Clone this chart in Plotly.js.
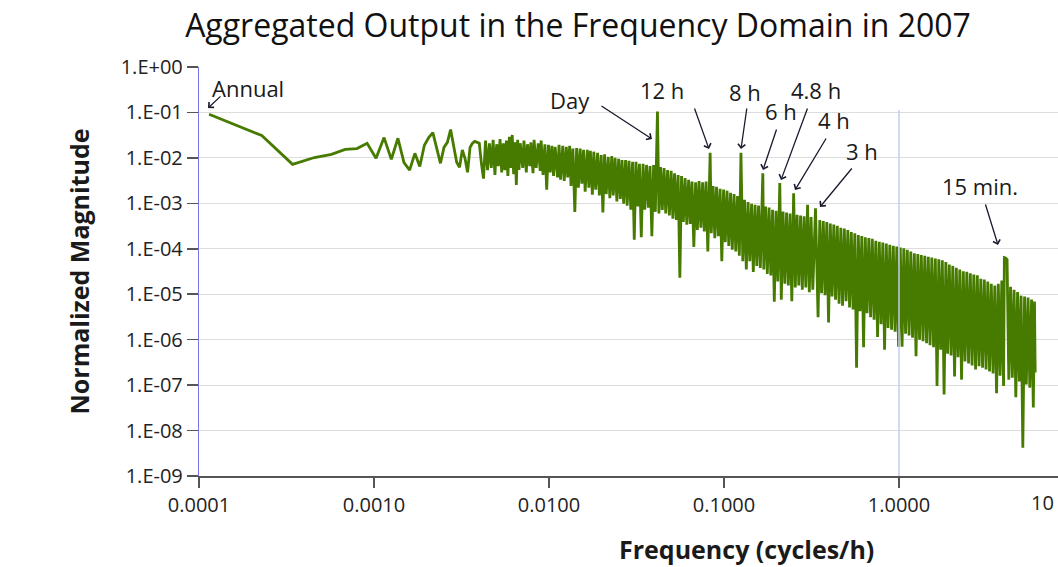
<!DOCTYPE html>
<html>
<head>
<meta charset="utf-8">
<script src="https://cdn.plot.ly/plotly-3.0.1.min.js"></script>
<style>
  html, body { margin: 0; padding: 0; background: #ffffff; }
  #chart { width: 1058px; height: 567px; }
</style>
</head>
<body>
<div id="chart"></div>
<script>
// ---------------- data ----------------
const HOURS_PER_YEAR = 8760;

// frequency as cycles per year (harmonic number of a one-year record)
const cyclesPerYear = [
  1, 2, 3, 4, 5, 6, 7, 8, 9, 10, 11, 12, 13, 14, 15, 16, 17, 18, 19, 20,
  21, 22, 23, 24, 25, 26, 27, 28, 29, 30, 31, 32, 33, 34, 35, 36, 37,
  38, 39, 40, 41, 42, 43, 44, 45, 46, 47,
  48, 49, 50, 51, 52, 53, 54, 55, 56, 57,
  58, 59, 60, 62, 63, 65, 66, 68, 69, 71,
  72, 74, 76, 78, 79, 81, 83, 85, 87, 89,
  91, 93, 95, 98,
  100, 102, 105, 107, 110, 112, 115, 117, 120, 123,
  126, 129, 132, 135, 138, 141, 145, 148, 151, 155,
  158, 162, 166, 170, 174, 178, 182, 186, 191, 195,
  200, 204, 209, 214, 219, 224, 229, 234, 240, 245,
  251, 257, 263, 269, 275, 282, 288, 295, 302, 309,
  316, 324, 331, 339, 347, 355, 365, 372, 380, 389,
  398, 407, 417, 427, 437, 447, 457, 468, 479, 490,
  501, 513, 525, 537, 550, 562, 575, 589, 603, 617,
  631, 646, 661, 676, 692, 708, 730, 741, 759, 776,
  794, 813, 832, 851, 871, 891, 912, 933, 955, 977,
  1000, 1023, 1047, 1072, 1095, 1122, 1148, 1175, 1202, 1230,
  1259, 1288, 1318, 1349, 1380, 1413, 1460, 1479, 1514, 1549,
  1585, 1622, 1660, 1698, 1738, 1778, 1825, 1862, 1905, 1950,
  1995, 2042, 2089, 2138, 2190, 2239, 2291, 2344, 2399, 2455,
  2512, 2570, 2630, 2692, 2754, 2818, 2920, 3020, 3090, 3162,
  3236, 3311, 3388, 3467, 3548, 3631, 3715, 3802, 3890, 3981,
  4074, 4169, 4266, 4365, 4467, 4571, 4677, 4786, 4898, 5012,
  5129, 5248, 5370, 5495, 5623, 5754, 5888, 6026, 6166, 6310,
  6457, 6607, 6761, 6918, 7079, 7244, 7413, 7586, 7762, 7943,
  8128, 8318, 8511, 8710, 8913, 9120, 9333, 9550, 9772,
  10000, 10230, 10470, 10720, 10960, 11220, 11480, 11750, 12020, 12300,
  12590, 12880, 13180, 13490, 13800, 14130, 14450, 14790, 15140, 15490,
  15850, 16220, 16600, 16980, 17380, 17780, 18200, 18620, 19050, 19500,
  19950, 20420, 20890, 21380, 21880, 22390, 22910, 23440, 23990, 24550,
  25120, 25700, 26300, 26920, 27540, 28180, 28840, 29510, 30200, 30900,
  31620, 32360, 33110, 33880, 34670, 35040, 35600, 36310, 37150, 38020,
  38900, 39810, 40740, 41690, 42660, 43650, 44670, 45710, 46770, 47860,
  48980, 50120, 51290, 52080, 52560
];

// normalized magnitude at each frequency
const normalizedMagnitude = [
  9.1e-2, 3.1e-2, 7.2e-3, 1.02e-2, 1.2e-2, 1.54e-2, 1.6e-2, 2.1e-2, 9.8e-3, 2.8e-2,
  9.3e-3, 2.7e-2, 7.9e-3, 5.4e-3, 1.26e-2, 6.5e-3, 1.9e-2, 2.8e-2, 3.6e-2, 1.5e-2,
  7.6e-3, 1.7e-2, 2.2e-2, 4.2e-2, 1.7e-2, 8.0e-3, 6.2e-3, 1.5e-2, 9.8e-3, 4.8e-3,
  1.7e-2, 2.1e-2, 2.3e-2, 2.2e-2, 2.1e-2, 7.6e-3, 3.5e-3,
  2.4e-2, 5.4e-3, 2.1e-2, 6.0e-3, 2.5e-2, 4.2e-3, 2.0e-2, 6.6e-3, 2.6e-2, 4.8e-3,
  2.1e-2, 5.4e-3, 2.4e-2, 4.0e-3, 2.9e-2, 6.0e-3, 3.2e-2, 4.4e-3, 2.2e-2, 2.55e-3,
  2.5e-2, 5.4e-3, 2.1e-2, 6.0e-3, 2.4e-2, 4.8e-3, 2.0e-2, 6.6e-3, 2.2e-2, 4.6e-3,
  2.5e-2, 6.0e-3, 2.1e-2, 5.2e-3, 2.4e-2, 4.2e-3, 2.0e-2, 2.0e-3, 1.93e-2, 4.8e-3,
  1.85e-2, 4.0e-3, 1.75e-2, 3.7e-3,
  1.93e-2, 3.3e-3, 1.85e-2, 3.1e-3, 1.75e-2, 3.7e-3, 1.85e-2, 2.4e-3, 1.6e-2, 6.5e-4,
  1.65e-2, 2.2e-3, 1.6e-2, 2.7e-3, 1.5e-2, 1.8e-3, 1.5e-2, 2.2e-3, 1.43e-2, 1.54e-3,
  1.37e-2, 2.0e-3, 1.3e-2, 1.5e-3, 1.16e-2, 6.3e-4, 1.2e-2, 1.6e-3, 1.05e-2, 1.3e-3,
  1.1e-2, 1.5e-3, 1.0e-2, 1.1e-3, 9.5e-3, 1.25e-3, 9.0e-3, 9.8e-4, 9.0e-3, 8.9e-4,
  8.6e-3, 7.2e-4, 8.2e-3, 1.58e-4, 8.2e-3, 8.5e-4, 7.4e-3, 1.8e-4, 7.4e-3, 7.2e-4,
  7.0e-3, 8.0e-4, 6.6e-3, 1.9e-4, 7.0e-3, 6.5e-4, 1.05e-1, 6.0e-4, 6.3e-3, 7.2e-4,
  6.0e-3, 6.0e-4, 5.4e-3, 5.4e-4, 5.2e-3, 4.6e-4, 4.6e-3, 4.3e-4, 4.2e-3, 2.3e-5,
  4.0e-3, 3.9e-4, 3.6e-3, 3.4e-4, 3.3e-3, 3.5e-4, 3.0e-3, 1.1e-4, 2.9e-3, 2.6e-4,
  3.1e-3, 2.9e-4, 2.9e-3, 2.4e-4, 3.0e-3, 8.7e-5, 1.3e-2, 2.2e-4, 2.4e-3, 1.7e-4,
  2.3e-3, 1.9e-4, 2.1e-3, 5.3e-5, 2.0e-3, 1.4e-4, 1.9e-3, 1.15e-4, 1.7e-3, 9.5e-5,
  1.6e-3, 8.7e-5, 1.45e-3, 7.0e-5, 1.3e-2, 5.3e-5, 1.19e-3, 3.5e-5, 1.07e-3, 5.3e-5,
  9.8e-4, 3.1e-5, 9.3e-4, 4.2e-5, 8.9e-4, 3.8e-5, 4.6e-3, 3.5e-5, 8.5e-4, 2.8e-5,
  8.1e-4, 2.6e-5, 7.2e-4, 6.8e-6, 6.9e-4, 1.9e-5, 2.8e-3, 7.6e-6, 6.6e-4, 1.7e-5,
  6.3e-4, 1.55e-5, 6.0e-4, 7.0e-6, 1.66e-3, 1.4e-5, 5.6e-4, 1.55e-5, 5.4e-4, 1.26e-5,
  5.2e-4, 1.4e-5, 9.3e-4, 1.1e-5, 5.0e-4, 1.26e-5, 7.8e-4, 3.1e-6, 4.3e-4, 1.05e-5,
  4.1e-4, 9.5e-6, 3.9e-4, 2.4e-6, 3.6e-4, 8.9e-6, 3.4e-4, 7.6e-6, 3.2e-4, 6.2e-6,
  2.9e-4, 5.6e-6, 2.8e-4, 7.0e-6, 2.6e-4, 5.1e-6, 2.35e-4, 4.6e-6, 2.2e-4, 2.4e-7,
  2.0e-4, 4.2e-6, 1.9e-4, 6.8e-7, 1.8e-4, 3.8e-6, 1.72e-4, 3.1e-6, 1.65e-4, 2.75e-6,
  1.5e-4, 1.15e-6, 1.43e-4, 2.2e-6, 1.37e-4, 6.0e-7, 1.3e-4, 1.8e-6, 1.22e-4, 1.66e-6,
  1.17e-4, 1.5e-6, 1.12e-4, 7.0e-7, 1.07e-4, 7.0e-7, 1.02e-4, 1.35e-6, 9.5e-5,
  1.23e-6, 8.7e-5, 1.1e-6, 8.0e-5, 4.3e-7, 7.7e-5, 1.0e-6, 7.3e-5, 9.2e-7, 7.0e-5,
  8.3e-7, 6.7e-5, 7.5e-7, 6.4e-5, 6.8e-7, 6.1e-5, 9.6e-8, 5.9e-5, 6.0e-7, 5.6e-5,
  6.2e-8, 5.1e-5, 4.9e-7, 4.5e-5, 4.5e-7, 4.2e-5, 1.55e-7, 3.8e-5, 4.1e-7, 3.5e-5,
  1.32e-7, 3.2e-5, 3.3e-7, 3.1e-5, 3.0e-7, 2.9e-5, 2.7e-7, 2.7e-5, 2.2e-7, 2.6e-5,
  2.6e-7, 2.2e-5, 2.4e-7, 2.1e-5, 2.2e-7, 1.9e-5, 2.0e-7, 1.7e-5, 1.8e-7, 1.55e-5,
  6.6e-8, 1.7e-5, 1.6e-7, 2.0e-5, 9.6e-8, 6.4e-5, 6.3e-5, 5.8e-5, 1.32e-7, 1.45e-5,
  1.45e-7, 1.26e-5, 5.4e-8, 1.12e-5, 1.2e-7, 9.3e-6, 4.2e-9, 8.9e-6, 1.03e-7, 8.5e-6,
  8.8e-8, 7.6e-6, 3.2e-8, 6.9e-6, 1.9e-7
];

// axis ticks
const xTickValues = [0.0001, 0.001, 0.01, 0.1, 1];
const xTickLabels = ["0.0001", "0.0010", "0.0100", "0.1000", "1.0000"];
const xLastTickLabel = "10";
const yTickValues = [1, 1e-1, 1e-2, 1e-3, 1e-4, 1e-5, 1e-6, 1e-7, 1e-8, 1e-9];
const yTickLabels = ["1.E+00", "1.E-01", "1.E-02", "1.E-03", "1.E-04", "1.E-05", "1.E-06", "1.E-07", "1.E-08", "1.E-09"];

// peak labels
const peakLabels = ["Annual", "Day", "12 h", "8 h", "6 h", "4.8 h", "4 h", "3 h", "15 min."];

const chartTitle = "Aggregated Output in the Frequency Domain in 2007";
const xTitle = "Frequency (cycles/h)";
const yTitle = "Normalized Magnitude";

// ---------------- layout / styling ----------------
const W = 1058, H = 567;
const M = { l: 199, r: 0, t: 67, b: 91 };
const PW = W - M.l - M.r, PH = H - M.t - M.b;
const px2x = (px) => (px - M.l) / PW;
const py2y = (py) => (H - M.b - py) / PH;

const FONT = "Open Sans, Noto Sans, DejaVu Sans, sans-serif";

// label placement in figure pixels: text centre, arrow head, arrow tail
const labelPlacement = [
  { tx: 248, ty: 88,  hx: 208, hy: 108, ax: 222, ay: 95 },
  { tx: 570, ty: 100, hx: 652, hy: 139, ax: 600, ay: 105 },
  { tx: 662, ty: 90,  hx: 709, hy: 149, ax: 694, ay: 107 },
  { tx: 745, ty: 92,  hx: 741, hy: 149, ax: 747, ay: 107 },
  { tx: 781, ty: 111, hx: 763, hy: 170, ax: 777, ay: 128 },
  { tx: 816, ty: 90,  hx: 781, hy: 180, ax: 808, ay: 107 },
  { tx: 834, ty: 120, hx: 795, hy: 190, ax: 827, ay: 137 },
  { tx: 862, ty: 151, hx: 820, hy: 207, ax: 853, ay: 167 },
  { tx: 980, ty: 186, hx: 998, hy: 245, ax: 985, ay: 203 }
];

const annotations = [];
peakLabels.forEach((label, i) => {
  const p = labelPlacement[i];
  annotations.push({
    xref: "paper", yref: "paper", x: px2x(p.tx), y: py2y(p.ty),
    text: label, showarrow: false, xanchor: "center", yanchor: "middle",
    font: { family: FONT, size: 22, color: "#1a1a1a" }
  });
  annotations.push({
    xref: "paper", yref: "paper", x: px2x(p.hx), y: py2y(p.hy),
    text: "", showarrow: true, axref: "pixel", ayref: "pixel",
    ax: p.ax - p.hx, ay: p.ay - p.hy,
    arrowhead: 4, arrowsize: 1.1, arrowwidth: 1.3, arrowcolor: "#1a1a2e", standoff: 0
  });
});
annotations.push({
  xref: "paper", yref: "paper", x: px2x(1042), y: py2y(502),
  text: xLastTickLabel, showarrow: false, xanchor: "center", yanchor: "middle",
  font: { family: FONT, size: 20, color: "#222222" }
});
annotations.push({
  xref: "paper", yref: "paper", x: px2x(746), y: py2y(549),
  text: "<b>" + xTitle + "</b>", showarrow: false, xanchor: "center", yanchor: "middle",
  font: { family: FONT, size: 25, color: "#1a1a1a" }
});

const trace = {
  type: "scatter",
  mode: "lines",
  x: cyclesPerYear.map(k => k / HOURS_PER_YEAR),
  y: normalizedMagnitude,
  line: { color: "#467b00", width: 2.8 },
  hoverinfo: "skip",
  showlegend: false
};

const layout = {
  width: W, height: H,
  margin: M,
  paper_bgcolor: "#ffffff",
  plot_bgcolor: "#ffffff",
  font: { family: FONT, color: "#222222" },
  showlegend: false,
  title: {
    text: chartTitle,
    xref: "container", yref: "container",
    x: 578 / W, y: 1 - 26 / H, xanchor: "center", yanchor: "middle",
    font: { family: FONT, size: 32, color: "#111111" }
  },
  xaxis: {
    type: "log",
    range: [-4, -4 + PW / 175],
    tickvals: xTickValues,
    ticktext: xTickLabels,
    showgrid: false,
    zeroline: false,
    showline: true, linecolor: "#555555", linewidth: 1.5,
    ticks: "outside", ticklen: 10, tickwidth: 1.5, tickcolor: "#555555",
    tickfont: { family: FONT, size: 20, color: "#222222" }
  },
  yaxis: {
    type: "log",
    range: [-9, 0],
    tickvals: yTickValues,
    ticktext: yTickLabels,
    showgrid: true, gridcolor: "#dddddd", gridwidth: 1,
    zeroline: false,
    showline: true, linecolor: "#7373e6", linewidth: 1.2,
    ticks: "outside", ticklen: 11, tickwidth: 1.5, tickcolor: "#555555",
    tickfont: { family: FONT, size: 20, color: "#222222" },
    title: { text: "<b>" + yTitle + "</b>", standoff: 24,
             font: { family: FONT, size: 25, color: "#1a1a1a" } }
  },
  shapes: [
    { type: "line", xref: "x", yref: "paper", x0: 1, x1: 1, y0: 0, y1: py2y(110),
      line: { color: "#c6caf2", width: 1.5 } }
  ],
  annotations: annotations
};

Plotly.newPlot("chart", [trace], layout, { staticPlot: true, displayModeBar: false });
</script>
</body>
</html>
